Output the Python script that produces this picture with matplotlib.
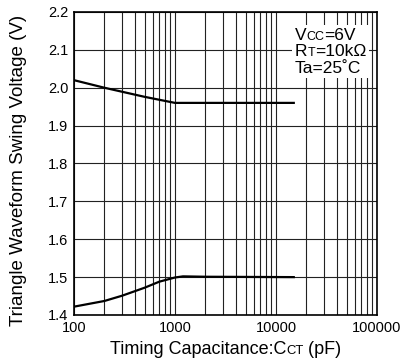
import matplotlib
matplotlib.use("Agg")
import matplotlib.pyplot as plt
from matplotlib.offsetbox import TextArea, HPacker, VPacker, AnchoredOffsetbox

plt.rcParams["font.family"] = ["Liberation Sans", "DejaVu Sans"]

# upper and lower swing voltage vs timing capacitance
cap_upper = [100, 200, 500, 1000, 15000]
volt_upper = [2.02, 2.0, 1.976, 1.96, 1.96]
cap_lower = [100, 200, 300, 500, 700, 1000, 1200, 2000, 15000]
volt_lower = [1.422, 1.437, 1.451, 1.472, 1.488, 1.499, 1.502, 1.501, 1.50]

x_ticks = [100, 1000, 10000, 100000]
x_tick_labels = ["100", "1000", "10000", "100000"]
y_ticks = [1.4, 1.5, 1.6, 1.7, 1.8, 1.9, 2.0, 2.1, 2.2]

fig = plt.figure(figsize=(4.01, 3.6), dpi=100)
ax = fig.add_axes([0.1845, 0.125, 0.7556, 0.8417])

ax.plot(cap_upper, volt_upper, color="black", lw=1.6, zorder=3)
ax.plot(cap_lower, volt_lower, color="black", lw=1.6, zorder=3)

ax.set_xscale("log")
ax.set_xlim(100, 100000)
ax.set_ylim(1.4, 2.2)
ax.set_xticks(x_ticks)
ax.set_xticklabels(x_tick_labels)
ax.set_yticks(y_ticks)
ax.set_yticklabels([f"{v:.1f}" for v in y_ticks])
ax.tick_params(which="both", length=0, labelsize=10.5, pad=4)
ax.xaxis.set_minor_formatter(plt.NullFormatter())
ax.grid(which="both", axis="x", color="#222222", lw=0.8)
ax.grid(which="major", axis="y", color="#222222", lw=0.8)
for s in ax.spines.values():
    s.set_linewidth(1.2)
    s.set_color("black")

ax.set_ylabel("Triangle Waveform Swing Voltage (V)", fontsize=13.5)
ax.yaxis.set_label_coords(-0.155, 0.478)


def label_row(parts, size):
    boxes = [TextArea(t, textprops=dict(fontsize=size * k, color="black")) for t, k in parts]
    return HPacker(children=boxes, align="baseline", pad=0, sep=0)


xlabel = label_row([("Timing Capacitance:C", 1.0), ("CT", 0.72), (" (pF)", 1.0)], 13)
ab = AnchoredOffsetbox(loc="upper center", child=xlabel, bbox_to_anchor=(0.5, -0.086),
                       bbox_transform=ax.transAxes, frameon=False, pad=0, borderpad=0)
ax.add_artist(ab)

cond = VPacker(children=[
    label_row([("V", 1.0), ("CC", 0.72), ("=6V", 1.0)], 12.5),
    label_row([("R", 1.0), ("T", 0.72), ("=10kΩ", 1.0)], 12.5),
    label_row([("Ta=25˚C", 1.0)], 12.5),
], align="left", pad=0, sep=1)
cb = AnchoredOffsetbox(loc="upper right", child=cond, bbox_to_anchor=(0.9736, 0.957),
                       bbox_transform=ax.transAxes, frameon=True, pad=0.2, borderpad=0)
cb.patch.set_facecolor("white")
cb.patch.set_edgecolor("none")
cb.set_zorder(4)
ax.add_artist(cb)

fig.savefig("out.png", dpi=100)
